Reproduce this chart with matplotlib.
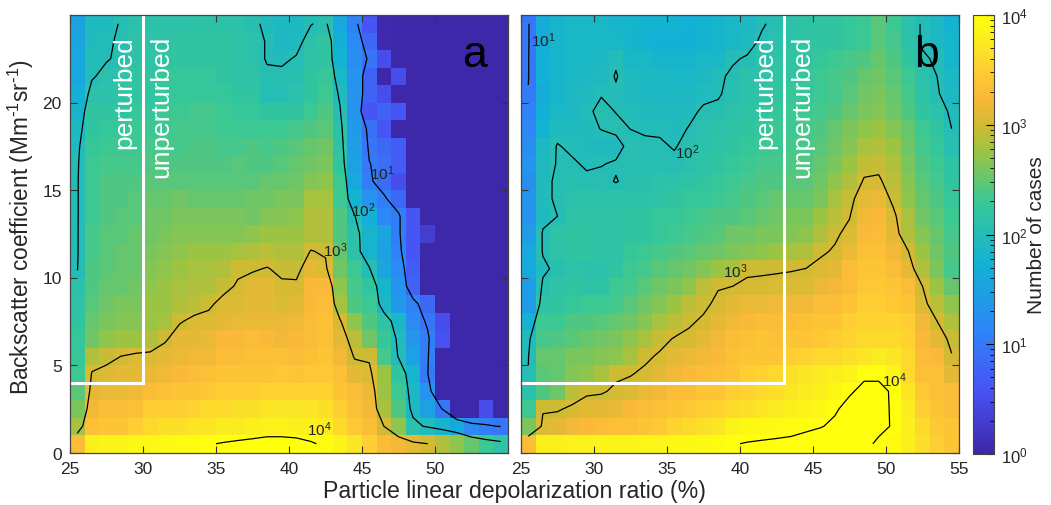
import numpy as np
import matplotlib
matplotlib.use('Agg')
import matplotlib.pyplot as plt
from matplotlib.colors import LinearSegmentedColormap, LogNorm
from matplotlib.ticker import LogLocator, NullFormatter

plt.rcParams['font.family'] = ['Liberation Sans', 'DejaVu Sans']
plt.rcParams['mathtext.default'] = 'regular'

# bin edges
depol_edges = np.arange(25, 56)
backscatter_edges = np.arange(0, 26)

# log10(number of cases), top row first (24-25 down to 0-1), columns 25-26 ... 54-55
log_cases_a = [
 [1.50,1.92,1.92,2.02,2.08,2.10,2.10,2.12,2.14,2.14,2.12,2.10,2.05,1.95,1.90,1.90,1.99,2.05,1.60,1.10,0.60,0.05,.03,.03,.03,.03,.03,.03,.03,.03],
 [1.55,1.95,1.97,2.03,2.15,2.15,2.15,2.18,2.20,2.20,2.18,2.15,2.10,1.98,1.90,1.92,2.10,2.20,1.70,1.20,0.80,0.05,.03,.03,.03,.03,.03,.03,.03,.03],
 [1.60,1.97,1.98,2.05,2.15,2.15,2.20,2.20,2.20,2.20,2.20,2.15,2.10,1.98,1.96,2.02,2.15,2.20,1.75,1.25,0.95,0.50,.03,.03,.03,.03,.03,.03,.03,.03],
 [1.60,1.97,2.08,2.15,2.20,2.20,2.25,2.25,2.25,2.25,2.20,2.15,2.15,2.04,2.05,2.05,2.20,2.25,1.85,1.30,0.75,0.03,0.50,.03,.03,.03,.03,.03,.03,.03],
 [1.70,2.10,2.10,2.15,2.20,2.20,2.25,2.25,2.25,2.25,2.25,2.20,2.20,2.03,2.02,2.10,2.20,2.30,1.95,1.30,0.75,0.50,.03,.03,.03,.03,.03,.03,.03,.03],
 [1.80,2.20,2.20,2.20,2.25,2.25,2.30,2.30,2.35,2.35,2.30,2.25,2.25,2.20,2.20,2.20,2.30,2.40,2.02,1.30,0.60,0.75,0.60,.03,.03,.03,.03,.03,.03,.03],
 [1.90,2.20,2.25,2.25,2.30,2.30,2.30,2.35,2.35,2.35,2.30,2.30,2.30,2.30,2.30,2.35,2.40,2.45,2.10,1.40,0.90,0.60,.03,.03,.03,.03,.03,.03,.03,.03],
 [1.95,2.25,2.30,2.30,2.30,2.35,2.35,2.35,2.40,2.40,2.35,2.35,2.40,2.35,2.40,2.45,2.50,2.55,2.15,1.45,0.95,0.80,0.70,.03,.03,.03,.03,.03,.03,.03],
 [1.97,2.30,2.35,2.35,2.35,2.40,2.40,2.40,2.40,2.40,2.40,2.45,2.40,2.40,2.45,2.50,2.55,2.60,2.20,1.50,1.01,0.90,0.70,.03,.03,.03,.03,.03,.03,.03],
 [1.98,2.30,2.40,2.40,2.40,2.45,2.45,2.45,2.45,2.45,2.45,2.45,2.45,2.50,2.50,2.55,2.65,2.70,2.30,1.60,1.05,0.85,0.50,.03,.03,.03,.03,.03,.03,.03],
 [1.98,2.30,2.40,2.40,2.45,2.50,2.50,2.55,2.50,2.50,2.50,2.50,2.55,2.55,2.60,2.60,2.80,2.80,2.30,1.75,1.30,1.05,0.80,.03,.03,.03,.03,.03,.03,.03],
 [1.98,2.30,2.40,2.45,2.45,2.55,2.55,2.60,2.60,2.60,2.60,2.60,2.55,2.65,2.65,2.70,2.85,2.85,2.40,2.01,1.70,1.15,1.05,0.60,.03,.03,.03,.03,.03,.03],
 [1.98,2.35,2.45,2.45,2.50,2.55,2.60,2.65,2.65,2.65,2.65,2.65,2.70,2.75,2.75,2.75,2.85,2.85,2.40,2.10,1.80,1.55,1.05,0.60,0.30,.03,.03,.03,.03,.03],
 [1.98,2.35,2.45,2.50,2.50,2.60,2.65,2.70,2.75,2.75,2.75,2.80,2.85,2.90,2.85,2.85,3.01,2.97,2.50,2.12,1.80,1.50,1.10,0.60,.03,.03,.03,.03,.03,.03],
 [1.99,2.40,2.45,2.50,2.50,2.65,2.70,2.75,2.80,2.80,2.85,2.97,2.98,3.01,2.96,2.95,3.10,3.05,2.55,2.30,2.02,1.55,1.20,0.70,.03,.03,.03,.03,.03,.03],
 [2.10,2.40,2.50,2.50,2.55,2.70,2.75,2.80,2.85,2.85,2.95,3.02,3.08,3.10,3.03,3.03,3.25,3.25,2.70,2.35,2.20,1.80,1.30,0.75,.03,.03,.03,.03,.03,.03],
 [2.15,2.45,2.55,2.60,2.60,2.75,2.75,2.85,2.90,2.97,3.05,3.05,3.10,3.10,3.05,3.10,3.25,3.30,2.80,2.40,2.30,1.85,1.40,1.10,0.80,.03,.03,.03,.03,.03],
 [2.20,2.50,2.60,2.65,2.65,2.75,2.80,2.98,3.05,3.05,3.10,3.15,3.15,3.15,3.15,3.20,3.30,3.35,3.02,2.70,2.40,2.15,1.85,1.20,0.95,0.50,.03,.03,.03,.03],
 [2.25,2.55,2.70,2.75,2.75,2.85,2.97,3.10,3.10,3.15,3.25,3.25,3.30,3.25,3.20,3.25,3.30,3.35,3.10,2.90,2.55,2.25,1.95,1.35,1.05,0.55,.03,.03,.03,.03],
 [2.25,2.85,2.95,3.001,3.05,3.05,3.10,3.15,3.20,3.20,3.30,3.30,3.35,3.35,3.35,3.30,3.35,3.40,3.20,2.98,2.97,2.35,1.98,1.50,1.05,.03,.03,.03,.03,.03],
 [2.30,3.02,3.05,3.10,3.10,3.15,3.20,3.25,3.30,3.35,3.40,3.40,3.40,3.40,3.45,3.40,3.45,3.45,3.35,3.10,3.05,2.75,2.20,1.80,1.01,.03,.03,.03,.03,.03],
 [2.45,3.10,3.15,3.15,3.20,3.30,3.35,3.40,3.40,3.45,3.50,3.50,3.50,3.55,3.55,3.55,3.55,3.55,3.40,3.30,3.15,2.75,2.30,1.85,1.30,.03,.03,.03,.03,.03],
 [2.60,3.20,3.30,3.30,3.35,3.50,3.50,3.50,3.55,3.60,3.60,3.65,3.65,3.70,3.70,3.70,3.70,3.65,3.50,3.35,3.20,2.80,2.40,1.90,1.50,0.98,.03,.03,0.50,.03],
 [2.80,3.35,3.40,3.40,3.50,3.60,3.65,3.65,3.70,3.70,3.75,3.78,3.80,3.82,3.82,3.80,3.80,3.75,3.60,3.45,3.30,3.00,2.70,2.10,1.95,1.80,1.60,1.20,1.05,0.98],
 [3.30,3.80,3.85,3.85,3.90,3.90,3.92,3.93,3.95,3.98,4.02,4.05,4.08,4.12,4.12,4.10,4.03,3.95,3.85,3.70,3.50,3.30,3.20,3.10,3.001,2.85,2.70,2.50,2.30,2.15],
]

log_cases_b = [
 [0.97,1.65,1.80,1.85,1.85,1.85,1.80,1.80,1.75,1.75,1.75,1.70,1.75,1.80,1.85,1.90,1.98,2.05,2.10,2.15,2.20,2.20,2.25,2.30,2.45,2.30,2.10,1.98,1.90,1.75],
 [0.97,1.65,1.80,1.85,1.85,1.85,1.85,1.80,1.75,1.70,1.70,1.70,1.75,1.80,1.85,1.93,2.03,2.08,2.12,2.18,2.20,2.20,2.25,2.30,2.45,2.35,2.10,1.98,1.90,1.80],
 [0.98,1.70,1.80,1.85,1.85,1.90,1.98,1.85,1.85,1.80,1.80,1.80,1.85,1.85,1.98,2.02,2.10,2.15,2.20,2.20,2.25,2.30,2.35,2.40,2.50,2.40,2.20,2.02,1.98,1.80],
 [0.98,1.70,1.80,1.85,1.90,1.93,2.01,1.93,1.90,1.88,1.85,1.85,1.90,1.97,2.03,2.10,2.15,2.20,2.20,2.25,2.30,2.35,2.40,2.50,2.55,2.45,2.30,2.10,1.999,1.85],
 [1.02,1.65,1.80,1.90,1.93,1.99,1.98,1.93,1.90,1.90,1.88,1.90,1.95,1.98,2.06,2.12,2.15,2.20,2.25,2.25,2.30,2.35,2.45,2.55,2.60,2.50,2.35,2.15,2.02,1.90],
 [1.10,1.70,1.85,1.90,1.97,2.04,1.995,1.97,1.95,1.94,1.93,1.95,2.03,2.04,2.10,2.15,2.20,2.25,2.30,2.30,2.35,2.40,2.50,2.60,2.65,2.55,2.40,2.20,2.10,1.96],
 [1.15,1.75,1.95,1.93,1.96,2.005,2.04,1.998,1.98,1.98,1.94,2.01,2.08,2.12,2.15,2.20,2.25,2.30,2.30,2.35,2.40,2.50,2.60,2.70,2.75,2.65,2.50,2.30,2.20,2.00],
 [1.25,1.90,2.01,1.97,1.94,1.93,1.93,2.06,2.03,2.02,1.99,2.04,2.10,2.15,2.20,2.25,2.30,2.30,2.35,2.35,2.45,2.55,2.65,2.80,2.85,2.75,2.55,2.35,2.25,2.05],
 [1.30,1.93,2.01,2.02,1.98,1.99,2.02,2.04,2.04,2.05,2.03,2.08,2.15,2.20,2.25,2.30,2.35,2.35,2.40,2.40,2.50,2.60,2.75,2.93,2.95,2.85,2.60,2.40,2.30,2.15],
 [1.25,1.95,2.03,2.05,2.03,2.05,1.99,2.05,2.07,2.10,2.12,2.15,2.20,2.25,2.30,2.35,2.40,2.40,2.45,2.45,2.55,2.70,2.85,3.02,3.03,2.90,2.65,2.45,2.35,2.20],
 [1.30,1.95,2.03,2.10,2.10,2.10,2.10,2.10,2.12,2.15,2.20,2.25,2.25,2.30,2.35,2.40,2.45,2.50,2.50,2.50,2.60,2.80,2.95,3.10,3.15,2.95,2.70,2.50,2.40,2.25],
 [1.30,1.92,2.00,2.15,2.15,2.15,2.15,2.20,2.20,2.25,2.25,2.30,2.35,2.40,2.40,2.45,2.50,2.55,2.60,2.60,2.75,2.90,2.99,3.20,3.25,3.05,2.80,2.55,2.45,2.30],
 [1.45,2.03,2.15,2.20,2.20,2.15,2.15,2.20,2.20,2.25,2.30,2.35,2.40,2.45,2.55,2.55,2.60,2.60,2.65,2.70,2.85,2.97,3.05,3.25,3.30,3.10,2.85,2.65,2.50,2.35],
 [1.60,2.02,2.15,2.20,2.20,2.15,2.15,2.25,2.30,2.35,2.40,2.45,2.50,2.55,2.60,2.65,2.70,2.75,2.80,2.85,2.97,3.02,3.15,3.35,3.35,3.20,3.01,2.75,2.55,2.40],
 [1.60,1.95,2.06,2.15,2.10,2.10,2.20,2.30,2.35,2.45,2.50,2.55,2.65,2.75,2.80,2.97,2.98,2.98,2.99,3.001,3.05,3.10,3.30,3.40,3.40,3.30,3.10,2.85,2.60,2.35],
 [1.45,2.05,2.15,2.20,2.15,2.15,2.30,2.35,2.45,2.55,2.60,2.70,2.90,2.99,3.00,3.03,3.03,3.05,3.05,3.05,3.15,3.20,3.30,3.45,3.45,3.40,3.30,3.00,2.75,2.50],
 [1.45,2.15,2.20,2.25,2.30,2.30,2.35,2.45,2.55,2.65,2.75,2.90,2.97,3.03,3.10,3.15,3.15,3.20,3.20,3.20,3.30,3.30,3.40,3.50,3.50,3.45,3.40,3.05,2.90,2.70],
 [1.75,2.30,2.30,2.40,2.40,2.45,2.50,2.55,2.65,2.80,2.90,2.98,3.02,3.10,3.20,3.25,3.30,3.30,3.30,3.35,3.40,3.40,3.50,3.55,3.55,3.55,3.50,3.20,3.00,2.85],
 [1.95,2.35,2.40,2.45,2.50,2.55,2.60,2.70,2.80,2.95,3.01,3.03,3.10,3.20,3.30,3.35,3.40,3.35,3.40,3.40,3.45,3.50,3.55,3.60,3.60,3.60,3.55,3.25,3.10,2.95],
 [1.99,2.50,2.50,2.60,2.60,2.65,2.70,2.80,2.97,3.02,3.10,3.15,3.20,3.25,3.35,3.40,3.40,3.40,3.50,3.55,3.60,3.60,3.65,3.70,3.75,3.70,3.60,3.30,3.25,3.01],
 [2.01,2.45,2.50,2.65,2.70,2.80,2.97,2.99,3.03,3.10,3.20,3.25,3.30,3.35,3.40,3.50,3.55,3.60,3.65,3.70,3.75,3.80,3.85,3.97,3.97,3.85,3.60,3.35,3.35,3.10],
 [2.10,2.40,2.55,2.90,2.97,2.98,3.03,3.06,3.15,3.20,3.30,3.30,3.40,3.40,3.50,3.55,3.60,3.65,3.70,3.75,3.80,3.90,3.98,4.04,4.04,3.98,3.70,3.45,3.35,3.30],
 [2.30,2.98,2.98,3.03,3.08,3.10,3.15,3.25,3.30,3.35,3.40,3.45,3.50,3.55,3.60,3.65,3.70,3.75,3.80,3.85,3.90,3.98,4.05,4.08,4.05,3.98,3.75,3.50,3.40,3.30],
 [2.60,3.05,3.10,3.20,3.25,3.30,3.35,3.35,3.40,3.45,3.55,3.60,3.65,3.70,3.85,3.90,3.92,3.93,3.93,3.96,3.99,4.03,4.06,4.08,4.03,3.99,3.80,3.60,3.45,3.40],
 [3.30,3.80,3.80,3.82,3.82,3.85,3.85,3.85,3.87,3.87,3.90,3.90,3.92,3.95,3.99,4.01,4.02,4.03,4.05,4.08,4.10,4.12,4.10,4.03,3.98,3.95,3.80,3.65,3.50,3.40],
]

contour_levels = [1, 2, 3, 4]

# boundary of the perturbed region in each panel
box_y = 4
box_x_a = 30
box_x_b = 43

# parula, warm end pulled towards the colorbar of the figure
cmap = LinearSegmentedColormap.from_list('parula', [
    (0.000, (0.2422, 0.1504, 0.6603)),
    (0.143, (0.2810, 0.3228, 0.9579)),
    (0.286, (0.1786, 0.5289, 0.9682)),
    (0.429, (0.0689, 0.6948, 0.8394)),
    (0.571, (0.2161, 0.7843, 0.5923)),
    (0.688, (0.6000, 0.7700, 0.2600)),
    (0.750, (0.8200, 0.7300, 0.2000)),
    (0.812, (0.9800, 0.7200, 0.2200)),
    (0.875, (1.0000, 0.8000, 0.2000)),
    (0.938, (0.9800, 0.9200, 0.1300)),
    (1.000, (1.0000, 1.0000, 0.0500))], N=256)
norm = LogNorm(vmin=1, vmax=1e4)

W, H = 1051., 506.
fig = plt.figure(figsize=(W/100, H/100), dpi=100)


def panel_axes(x0, x1, y0=16., y1=453.5):
  return fig.add_axes([x0/W, 1-y1/H, (x1-x0)/W, (y1-y0)/H])


def draw_panel(ax, rows, box_x, letter, labels):
  logn = np.array(rows)[::-1]
  im = ax.pcolormesh(depol_edges, backscatter_edges, 10**logn, cmap=cmap, norm=norm)
  xc = 0.5*(depol_edges[:-1]+depol_edges[1:])
  yc = 0.5*(backscatter_edges[:-1]+backscatter_edges[1:])
  ax.contour(xc, yc, logn, levels=contour_levels, colors='k', linewidths=0.9)
  ax.plot([25, box_x, box_x], [box_y, box_y, 25], color='w', lw=2.2, solid_joinstyle='miter')
  ax.text(box_x-1.27, 23.85, 'perturbed', color='w', rotation=90, ha='center', va='top', fontsize=19)
  ax.text(box_x+1.27, 23.85, 'unperturbed', color='w', rotation=90, ha='center', va='top', fontsize=19)
  ax.text(letter[0], 22.1, letter[1], color='k', ha='center', va='baseline', fontsize=32)
  for lx, ly, ls in labels:
    ax.text(lx, ly, ls, color='#222222', ha='center', va='center', fontsize=11)
  ax.set_xlim(25, 55)
  ax.set_ylim(0, 25)
  ax.set_xticks([25, 30, 35, 40, 45, 50, 55])
  ax.set_yticks([0, 5, 10, 15, 20])
  ax.tick_params(direction='in', top=True, right=True, length=5, width=0.8, color='#333333',
                 labelsize=12.5, labelcolor='#262626', pad=6)
  for s in ax.spines.values():
    s.set_color('#444444')
    s.set_linewidth(0.9)
  return im


ax_a = panel_axes(70, 508)
ax_b = panel_axes(521, 959)

labels_a = [(42.1, 1.35, '$10^4$'), (43.2, 11.6, '$10^3$'), (45.1, 13.9, '$10^2$'), (46.4, 16.0, '$10^1$')]
labels_b = [(50.6, 4.15, '$10^4$'), (39.7, 10.4, '$10^3$'), (36.4, 17.2, '$10^2$'), (26.5, 23.6, '$10^1$')]

im = draw_panel(ax_a, log_cases_a, box_x_a, (52.7, 'a'), labels_a)
draw_panel(ax_b, log_cases_b, box_x_b, (52.8, 'b'), labels_b)

ax_a.set_xticklabels(['25', '30', '35', '40', '45', '50', ''])
ax_b.set_yticklabels([])
fig.text(21/W, 1-227/H, r'Backscatter coefficient (Mm$^{\text{-}1}$sr$^{\text{-}1}$)', fontsize=16.3, color='#262626',
         rotation=90, ha='center', va='center')
fig.text(514/W, 1-492/H, 'Particle linear depolarization ratio (%)', fontsize=16.7, color='#262626',
         ha='center', va='center')

cax = panel_axes(973, 994, 16, 455)
cb = fig.colorbar(im, cax=cax)
cb.ax.yaxis.set_major_locator(LogLocator(base=10, numticks=6))
cb.ax.yaxis.set_minor_locator(LogLocator(base=10, subs=np.arange(2, 10), numticks=6))
cb.ax.yaxis.set_minor_formatter(NullFormatter())
cb.ax.tick_params(which='major', direction='in', length=6, width=0.8, labelsize=12, labelcolor='#262626', pad=5)
cb.ax.tick_params(which='minor', direction='in', length=3, width=0.6)
cb.outline.set_edgecolor('#444444')
fig.text(1037/W, 1-235/H, 'Number of cases', fontsize=15, color='#262626', rotation=90, ha='center', va='center')

fig.savefig('out.png', dpi=100)
